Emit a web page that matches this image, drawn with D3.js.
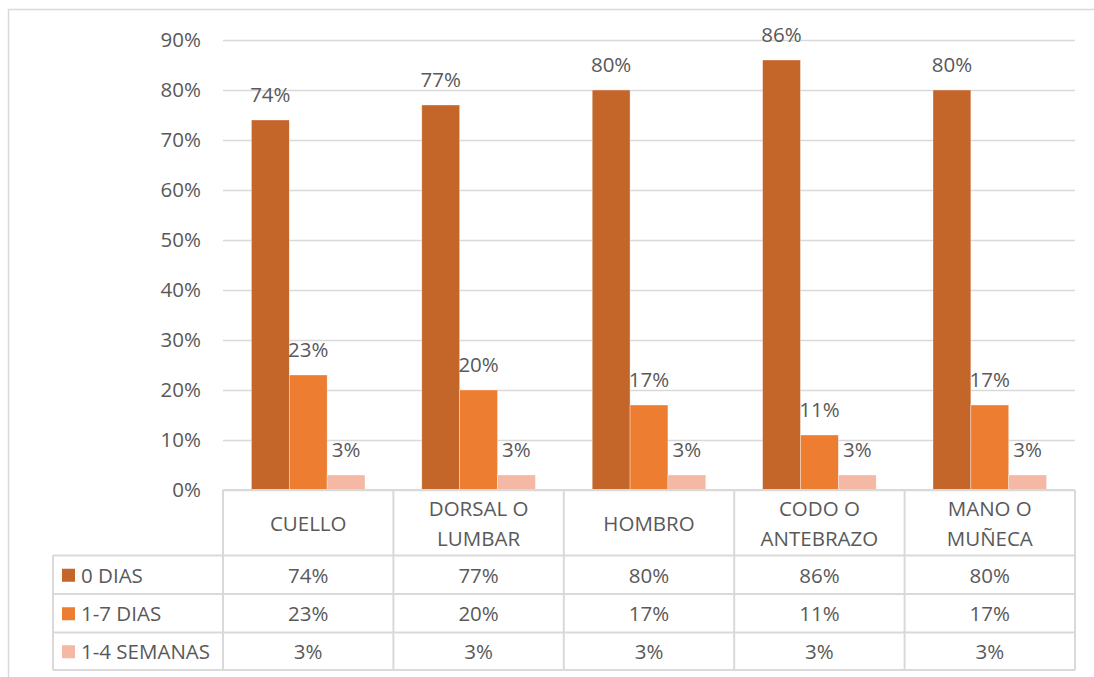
<!DOCTYPE html>
<html>
<head>
<meta charset="utf-8">
<script src="https://cdn.jsdelivr.net/npm/d3@7"></script>
<style>
  html, body { margin: 0; padding: 0; background: #fff; }
  svg { display: block; }
  text { font-family: "Open Sans", "Liberation Sans", sans-serif; fill: #595959; }
</style>
</head>
<body>
<svg id="chart" width="1094" height="677"></svg>
<script>
// Body regions (each label may wrap onto two lines)
const categories = [["CUELLO"], ["DORSAL O", "LUMBAR"], ["HOMBRO"], ["CODO O", "ANTEBRAZO"], ["MANO O", "MUÑECA"]];
const seriesNames = ["0 DIAS", "1-7 DIAS", "1-4 SEMANAS"];
const dias0 = [0.74, 0.77, 0.80, 0.86, 0.80];
const dias1a7 = [0.23, 0.20, 0.17, 0.11, 0.17];
const semanas1a4 = [0.03, 0.03, 0.03, 0.03, 0.03];
const yTicks = [0, 0.1, 0.2, 0.3, 0.4, 0.5, 0.6, 0.7, 0.8, 0.9];

const seriesValues = [dias0, dias1a7, semanas1a4];
const colors = ["#c4652a", "#ed7d31", "#f4b8a4"];

const svg = d3.select("#chart");
const fontSize = 20.5;
const fmt = d3.format(".0%");

// Plot area and data table geometry
const plotLeft = 223, plotRight = 1075, plotTop = 40, plotBottom = 490;
const legendLeft = 53;
const rowEdges = [490, 555.5, 594, 632.5, 670];
const gridColor = "#d9d9d9";

// Outer chart frame
svg.append("rect")
  .attr("x", 8.5).attr("y", 9.5).attr("width", 1200).attr("height", 800)
  .attr("fill", "none").attr("stroke", gridColor).attr("stroke-width", 1.5);

const catIdx = d3.range(categories.length);
const x0 = d3.scaleBand().domain(catIdx).range([plotLeft, plotRight]).padding(0);
const x1 = d3.scaleBand().domain(d3.range(seriesNames.length))
  .range([0, x0.bandwidth()]).paddingInner(0).paddingOuter(0.75);
const y = d3.scaleLinear().domain([0, 0.9]).range([plotBottom, plotTop]);

// Gridlines and value axis labels
const yAxis = d3.axisLeft(y).tickValues(yTicks).tickFormat(fmt)
  .tickSize(-(plotRight - plotLeft)).tickPadding(22);
const ga = svg.append("g").attr("transform", `translate(${plotLeft},0)`).call(yAxis);
ga.select(".domain").remove();
ga.selectAll(".tick line").attr("stroke", gridColor).attr("stroke-width", 1.5);
ga.selectAll(".tick text")
  .style("font-size", fontSize + "px")
  .style("font-family", "'Open Sans', 'Liberation Sans', sans-serif")
  .attr("fill", "#595959");

// Bars
const groups = svg.append("g").selectAll("g")
  .data(catIdx).join("g")
  .attr("transform", i => `translate(${x0(i)},0)`);

groups.selectAll("rect")
  .data(i => seriesValues.map((vals, s) => ({ s, v: vals[i] })))
  .join("rect")
  .attr("x", d => x1(d.s))
  .attr("y", d => y(d.v))
  .attr("width", x1.bandwidth())
  .attr("height", d => y(0) - y(d.v))
  .attr("fill", d => colors[d.s])
  .attr("stroke", "#fff").attr("stroke-width", 0.6).attr("stroke-opacity", 0.6);

// Value labels above each bar
groups.selectAll("text.val")
  .data(i => seriesValues.map((vals, s) => ({ s, v: vals[i] })))
  .join("text")
  .attr("class", "val")
  .attr("x", d => x1(d.s) + x1.bandwidth() / 2)
  .attr("y", d => y(d.v) - 18)
  .attr("text-anchor", "middle")
  .style("font-size", fontSize + "px")
  .attr("fill", "#404040")
  .text(d => fmt(d.v));

// Data table grid
const table = svg.append("g");
const lineStyle = sel => sel.attr("stroke", gridColor).attr("stroke-width", 2).attr("fill", "none");

// horizontal lines
table.append("line").attr("x1", plotLeft).attr("x2", plotRight).attr("y1", rowEdges[0]).attr("y2", rowEdges[0]).call(lineStyle);
rowEdges.slice(1).forEach(yy => {
  table.append("line").attr("x1", legendLeft).attr("x2", plotRight).attr("y1", yy).attr("y2", yy).call(lineStyle);
});
// vertical lines
x0.domain().forEach(i => {
  table.append("line").attr("x1", x0(i)).attr("x2", x0(i))
    .attr("y1", rowEdges[0]).attr("y2", rowEdges[4]).call(lineStyle);
});
table.append("line").attr("x1", plotRight).attr("x2", plotRight)
  .attr("y1", rowEdges[0]).attr("y2", rowEdges[4]).call(lineStyle);
table.append("line").attr("x1", legendLeft).attr("x2", legendLeft)
  .attr("y1", rowEdges[1]).attr("y2", rowEdges[4]).call(lineStyle);

// Category header cells
const headerMid = (rowEdges[0] + rowEdges[1]) / 2;
categories.forEach((lines, i) => {
  const cx = x0(i) + x0.bandwidth() / 2;
  const t = table.append("text")
    .attr("text-anchor", "middle")
    .attr("dominant-baseline", "central")
    .style("font-size", fontSize + "px");
  const lh = 30;
  lines.forEach((ln, k) => {
    t.append("tspan")
      .attr("x", cx)
      .attr("y", headerMid + (k - (lines.length - 1) / 2) * lh)
      .text(ln);
  });
});

// Series rows: legend key, name and values
seriesNames.forEach((name, s) => {
  const rm = (rowEdges[s + 1] + rowEdges[s + 2]) / 2;
  table.append("rect")
    .attr("x", 62).attr("y", rm - 6).attr("width", 13).attr("height", 13)
    .attr("fill", colors[s]);
  table.append("text")
    .attr("x", 81).attr("y", rm)
    .attr("dominant-baseline", "central")
    .style("font-size", fontSize + "px")
    .text(name);
  seriesValues[s].forEach((v, i) => {
    table.append("text")
      .attr("x", x0(i) + x0.bandwidth() / 2).attr("y", rm)
      .attr("text-anchor", "middle")
      .attr("dominant-baseline", "central")
      .style("font-size", fontSize + "px")
      .text(fmt(v));
  });
});
</script>
</body>
</html>
